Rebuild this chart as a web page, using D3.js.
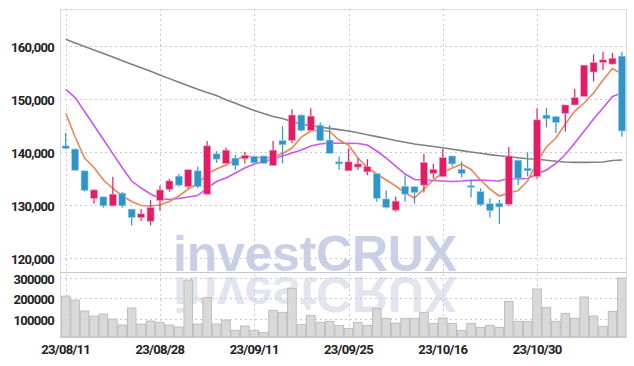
<!DOCTYPE html>
<html>
<head>
<meta charset="utf-8">
<script src="https://cdn.jsdelivr.net/npm/d3@7"></script>
<style>
  body { margin: 0; background: #fff; }
  svg text { font-family: Roboto, "Liberation Sans", sans-serif; }
</style>
</head>
<body>
<div id="chart"></div>
<script>
// ---- data ----
const dates = ["2023-08-11","2023-08-14","2023-08-16","2023-08-17","2023-08-18","2023-08-21","2023-08-22","2023-08-23","2023-08-24","2023-08-25",
  "2023-08-28","2023-08-29","2023-08-30","2023-08-31","2023-09-01","2023-09-04","2023-09-05","2023-09-06","2023-09-07","2023-09-08",
  "2023-09-11","2023-09-12","2023-09-13","2023-09-14","2023-09-15","2023-09-18","2023-09-19","2023-09-20","2023-09-21","2023-09-22",
  "2023-09-25","2023-09-26","2023-09-27","2023-10-04","2023-10-05","2023-10-06","2023-10-10","2023-10-11","2023-10-12","2023-10-13",
  "2023-10-16","2023-10-17","2023-10-18","2023-10-19","2023-10-20","2023-10-23","2023-10-24","2023-10-25","2023-10-26","2023-10-27",
  "2023-10-30","2023-10-31","2023-11-01","2023-11-02","2023-11-03","2023-11-06","2023-11-07","2023-11-08","2023-11-09","2023-11-10"];

const opens = [141200,140600,136500,131300,131600,129900,132300,129300,127700,127000,
  130900,133000,135500,133500,136500,132100,139700,137900,138900,138800,
  139200,139300,137500,142200,142200,147000,144100,145100,142300,138200,
  136500,137200,136300,136000,131200,129100,133600,133500,133800,136000,
  135400,139300,136800,133700,132600,130300,130400,130200,138500,137000,
  135400,147000,146700,147300,148900,150500,155100,156900,156600,158100];
const highs = [143600,140700,136500,133000,131600,135400,132500,129300,129300,131000,
  133700,135000,135900,136700,137300,142100,140200,140900,139500,140100,
  139300,139300,142100,144900,148100,147100,148300,145600,145100,139200,
  140700,138900,138700,136000,132800,131600,135600,133600,139700,137800,
  140600,139300,138200,134800,133200,131300,131000,141000,138600,140000,
  148300,148300,146800,148900,151900,156400,158400,158900,158700,158900];
const lows = [140600,136500,132600,130300,129600,129800,129600,126200,127100,126200,
  129000,132600,133500,133200,133200,132000,138000,137900,136700,137900,
  137900,137900,137400,137900,141700,143900,144000,142000,139700,136700,
  136500,136700,135700,130700,129400,128800,130700,130300,132400,135100,
  135300,137300,135300,131500,129900,127700,126500,129900,133800,135500,
  135000,144700,143600,143900,148900,150500,153300,155500,156500,142900];
const closes = [140700,136600,132800,132900,129900,132100,129900,127700,128400,129600,
  132900,134600,133800,136700,133500,141200,138700,140400,137500,139400,
  138000,137900,140400,141400,147000,144100,146800,142200,139800,137800,
  138200,137800,137300,131300,129600,130800,132100,132400,138100,136800,
  139000,137800,136000,133600,130100,129000,129700,139300,135100,136500,
  146100,146300,145600,148900,150300,156400,156900,157400,157700,144000];
const volumes = [211400,192000,138800,114500,124200,100000,71000,153300,75800,90300,
  83800,71000,61300,288900,75800,203200,75800,95200,45300,66100,
  45300,35600,142100,132500,248700,74300,117900,84000,88900,69500,
  55000,84000,69500,151800,103400,80600,103400,103400,132500,79200,
  104800,79200,45300,79200,59800,69500,59800,185700,88900,88900,
  245300,156700,88900,127600,103400,206600,114500,64700,137300,298600];

const ma5 = [147330,142870,138910,137120,134770,133170,131760,130720,129970,129870,
  130060,130720,131760,133070,134010,135900,136840,137590,138530,139290,
  139100,138910,139100,139760,140790,142870,143990,144180,143900,142300,
  141360,138910,137120,135900,134770,133640,132320,131380,133070,134770,
  136180,137030,137780,136750,134770,133070,131760,132320,132790,134580,
  138160,140980,142680,145310,147760,149270,151150,153600,155760,154730];
const ma20 = [151850,150300,147670,145030,142390,139740,137080,134580,133260,132130,
  131280,131100,131280,131570,131850,133260,134490,135150,136090,137030,
  137780,138250,138720,139290,139850,140420,141170,141550,141740,141680,
  141680,141640,141360,140230,138910,137400,135900,134860,134770,134670,
  134580,134490,134580,134710,134770,134670,134580,135090,134960,135050,
  135900,136650,137880,139570,141740,143990,146250,148330,150490,151150];
const ma60 = [161260,160580,159910,159250,158570,157910,157230,156570,155900,155240,
  154540,153860,153180,152510,151850,151240,150680,149870,149210,148530,
  147870,147290,146730,146350,145780,145280,145010,144750,144500,144260,
  144010,143660,143300,142940,142580,142220,141870,141550,141320,141080,
  140850,140570,140300,140040,139800,139550,139340,139140,138950,138780,
  138670,138480,138310,138160,138100,138100,138120,138160,138440,138530];

const priceTicks = [120000, 130000, 140000, 150000, 160000];
const volumeTicks = [100000, 200000, 300000];
const labelDates = ["2023-08-11","2023-08-28","2023-09-11","2023-09-25","2023-10-16","2023-10-30"];

// ---- layout ----
const W = 634, H = 366;
const plotLeft = 60, plotRight = 626, plotTop = 9, plotSplit = 272, plotBottom = 337;
const upColor = "#e31c66", downColor = "#2f94c8";
const gridColor = "#c5c9dc";

const svg = d3.select("#chart").append("svg")
    .attr("width", W)
    .attr("height", H);

const x = d3.scaleBand()
    .domain(dates)
    .range([61, 626.6])
    .padding(0);
const bw = x.bandwidth();
const cx = d => x(d) + bw / 2;

const y = d3.scaleLinear().domain([117450, 166970]).range([plotSplit, plotTop]);
const yv = d3.scaleLinear().domain([12830, 327600]).range([plotBottom, plotSplit]);

// watermark, with its mirrored copy clipped to the volume pane
svg.append("clipPath").attr("id", "volClip")
  .append("rect")
    .attr("x", plotLeft).attr("y", plotSplit + 2)
    .attr("width", plotRight - plotLeft).attr("height", plotBottom - plotSplit - 2);

const wm = svg.append("g")
    .attr("font-weight", "bold").attr("font-size", 50).attr("text-anchor", "middle");
wm.append("text")
    .attr("x", 315).attr("y", 271)
    .attr("fill", "#c9d0e6")
    .attr("textLength", 284)
    .style("font-family", "'Liberation Sans', Arial, sans-serif")
    .text("investCRUX");
wm.append("g").attr("clip-path", "url(#volClip)")
  .append("text")
    .attr("transform", "scale(1,-1)")
    .attr("x", 315).attr("y", -277)
    .attr("fill", "#e2e4ee")
    .attr("textLength", 284)
    .style("font-family", "'Liberation Sans', Arial, sans-serif")
    .text("investCRUX");

// grid
const grid = svg.append("g")
    .attr("stroke", gridColor)
    .attr("stroke-dasharray", "2,3")
    .attr("stroke-width", 1);
grid.selectAll("line.h").data(priceTicks).join("line")
    .attr("class", "h")
    .attr("x1", plotLeft).attr("x2", plotRight)
    .attr("y1", d => Math.round(y(d)) + 0.5).attr("y2", d => Math.round(y(d)) + 0.5);
grid.selectAll("line.v").data(volumeTicks).join("line")
    .attr("class", "v")
    .attr("x1", plotLeft).attr("x2", plotRight)
    .attr("y1", d => Math.round(yv(d)) + 0.5).attr("y2", d => Math.round(yv(d)) + 0.5);
grid.selectAll("line.x").data(labelDates).join("line")
    .attr("class", "x")
    .attr("x1", d => Math.round(cx(d)) + 0.5).attr("x2", d => Math.round(cx(d)) + 0.5)
    .attr("y1", plotTop).attr("y2", plotBottom);

// volume bars
svg.append("g").selectAll("rect").data(dates).join("rect")
    .attr("x", d => x(d) + 0.4)
    .attr("width", bw - 0.8)
    .attr("y", (d, i) => yv(volumes[i]))
    .attr("height", (d, i) => plotBottom - yv(volumes[i]))
    .attr("fill", "#d6d6d6")
    .attr("fill-opacity", 0.92)
    .attr("stroke", "#b5b5b5")
    .attr("stroke-width", 0.8);

// moving averages
const maLine = arr => d3.line()
    .x((d, i) => cx(dates[i]))
    .y(d => y(d))(arr);
[[ma60, "#808080"], [ma20, "#c957ec"], [ma5, "#ef8456"]].forEach(([arr, col]) => {
  svg.append("path")
      .attr("d", maLine(arr))
      .attr("fill", "none")
      .attr("stroke", col)
      .attr("stroke-width", 1.6);
});

// candles
const candle = svg.append("g").selectAll("g").data(dates).join("g");
candle.append("line")
    .attr("x1", d => cx(d)).attr("x2", d => cx(d))
    .attr("y1", (d, i) => y(highs[i]))
    .attr("y2", (d, i) => y(lows[i]))
    .attr("stroke", (d, i) => closes[i] >= opens[i] ? upColor : downColor)
    .attr("stroke-width", 1.2);
candle.append("rect")
    .attr("x", d => cx(d) - 3.5)
    .attr("width", 7)
    .attr("y", (d, i) => y(Math.max(opens[i], closes[i])))
    .attr("height", (d, i) => Math.max(1.5, Math.abs(y(opens[i]) - y(closes[i]))))
    .attr("fill", (d, i) => closes[i] >= opens[i] ? upColor : downColor)
    .attr("stroke", (d, i) => closes[i] >= opens[i] ? "#f4a3c0" : "#a6d0e8")
    .attr("stroke-width", 0.6);

// frame
const frame = svg.append("g").attr("fill", "none");
frame.append("rect")
    .attr("x", plotLeft + 0.5).attr("y", plotTop + 0.5)
    .attr("width", plotRight - plotLeft).attr("height", plotBottom - plotTop)
    .attr("stroke", "#d9d9e0");
frame.append("line")
    .attr("x1", plotLeft).attr("x2", plotRight + 1)
    .attr("y1", plotSplit + 0.5).attr("y2", plotSplit + 0.5)
    .attr("stroke", "#c8c8cc");
frame.append("line")
    .attr("x1", plotLeft).attr("x2", plotRight + 1)
    .attr("y1", plotBottom + 0.5).attr("y2", plotBottom + 0.5)
    .attr("stroke", "#c8c8cc");

// axis labels
const yAxis = svg.append("g")
    .attr("transform", `translate(${plotLeft},0)`)
    .call(d3.axisLeft(y).tickValues(priceTicks).tickFormat(d3.format(",")).tickSize(0).tickPadding(6));
const vAxis = svg.append("g")
    .attr("transform", `translate(${plotLeft},0)`)
    .call(d3.axisLeft(yv).tickValues(volumeTicks).tickFormat(d3.format("d")).tickSize(0).tickPadding(6));
const xAxis = svg.append("g")
    .attr("transform", `translate(0,${plotBottom})`)
    .call(d3.axisBottom(x).tickValues(labelDates)
      .tickFormat(d => d.slice(2).replace(/-/g, "/")).tickSize(0).tickPadding(8));

[yAxis, vAxis, xAxis].forEach(g => {
  g.select(".domain").remove();
  g.selectAll("text")
      .attr("fill", "#222")
      .attr("font-size", 13)
      .attr("font-weight", 700)
      .style("font-family", "Roboto, sans-serif")
      .attr("letter-spacing", "-0.7");
});
yAxis.selectAll("text").attr("dy", "0.42em");
vAxis.selectAll("text").attr("dy", "0.42em");
</script>
</body>
</html>
